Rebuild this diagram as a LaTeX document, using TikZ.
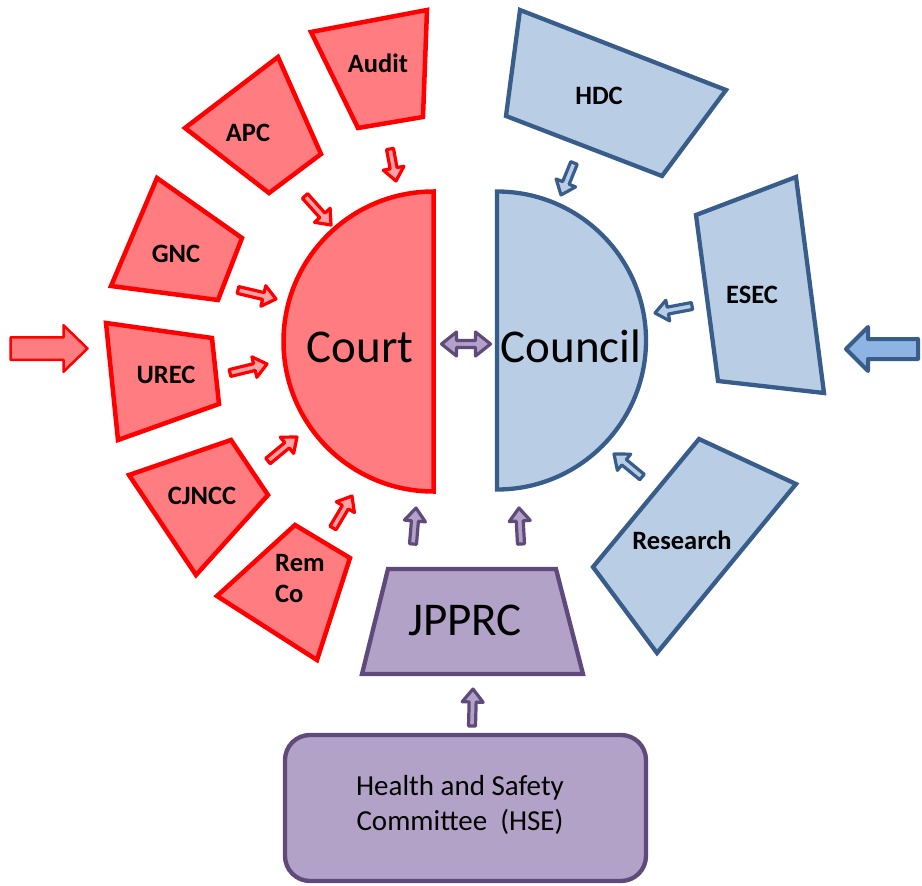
\documentclass[tikz,border=0pt]{standalone}
\usepackage{fontspec}
\setmainfont{Carlito}
\usetikzlibrary{calc}
\definecolor{rfill}{HTML}{FF7C80}
\definecolor{rline}{HTML}{FF0000}
\definecolor{bfill}{HTML}{B9CDE5}
\definecolor{bline}{HTML}{385D8A}
\definecolor{barrowfill}{HTML}{8EB4E3}
\definecolor{pfill}{HTML}{B3A2C7}
\definecolor{pline}{HTML}{604A7B}
\tikzset{
  blk/.style n args={3}{to path={let \p1=(\tikztostart), \p2=(\tikztotarget),
      \n1={atan2(\y2-\y1,\x2-\x1)}, \n2={veclen(\x2-\x1,\y2-\y1)-#3} in
      ($(\p1)+({\n1+90}:#1)$) -- ($(\p1)+(\n1:\n2)+({\n1+90}:#1)$) --
      ($(\p1)+(\n1:\n2)+({\n1+90}:#2)$) -- (\p2) --
      ($(\p1)+(\n1:\n2)+({\n1-90}:#2)$) -- ($(\p1)+(\n1:\n2)+({\n1-90}:#1)$) --
      ($(\p1)+({\n1-90}:#1)$) -- cycle}},
  sarr/.style={line width=3.2pt, line join=round, blk={3.5pt}{10.5pt}{13pt}},
  redarr/.style={sarr, draw=rline, fill=rfill!70!white},
  bluearr/.style={sarr, draw=bline, fill=bfill},
  purarr/.style={sarr, draw=pline, fill=pfill},
  redshape/.style={draw=rline, fill=rfill, line width=4.5pt, line join=miter},
  blueshape/.style={draw=bline, fill=bfill, line width=4.3pt, line join=miter},
  purshape/.style={draw=pline, fill=pfill, line width=4.3pt, line join=miter},
  lab/.style={font=\bfseries\fontsize{26.5}{31}\selectfont, inner sep=0pt, anchor=base},
  biglab/.style={font=\fontsize{47}{56}\selectfont, inner sep=0pt, anchor=base},
  hselab/.style={font=\fontsize{29}{35}\selectfont, inner sep=0pt, anchor=base, align=center}
}
\begin{document}
\begin{tikzpicture}[x=1pt,y=-1pt]
\useasboundingbox (0,0) rectangle (922,886);
% ---------- Court side ----------
\draw[redshape] (433.5,191.5) arc[start angle=270, end angle=90, radius=150] -- cycle;
\node[biglab] (court) at (360,362) {Court};
\draw[redshape] (311,32) -- (427,10) -- (423,117) -- (358,128) -- cycle;
\node[lab] (audit) at (378,72) {Audit};
\draw[redshape] (185,128) -- (278,57) -- (321,154) -- (269,193) -- cycle;
\node[lab] (apc) at (248,141) {APC};
\draw[redshape] (157,178) -- (242,238) -- (218,300) -- (111,286) -- cycle;
\node[lab] (gnc) at (176,262) {GNC};
\draw[redshape] (106,323) -- (212,338) -- (219,404) -- (118,440) -- cycle;
\node[lab] (urec) at (166,383) {UREC};
\draw[redshape] (129,475) -- (231,440) -- (268,495) -- (196,575) -- cycle;
\node[lab] (cjncc) at (202,504) {CJNCC};
\draw[redshape] (217,596) -- (295,525) -- (350,558) -- (317,660) -- cycle;
\node[lab, anchor=base west] (rem) at (275,571) {Rem};
\node[lab, anchor=base west] (co) at (275,602) {Co};
% ---------- Council side ----------
\draw[blueshape] (497,191.5) arc[start angle=-90, end angle=90, radius=149] -- cycle;
\node[biglab] (council) at (571,362) {Council};
\draw[blueshape] (520,10) -- (726,90) -- (662,176) -- (506,116) -- cycle;
\node[lab] (hdc) at (599,104) {HDC};
\draw[blueshape] (696,215) -- (796,177) -- (824,393) -- (718,381) -- cycle;
\node[lab] (esec) at (752,303) {ESEC};
\draw[blueshape] (699,439) -- (796,484) -- (657,653) -- (593,567) -- cycle;
\node[lab] (research) at (682,549) {Research};
% ---------- JPPRC and HSE ----------
\draw[purshape] (388,569) -- (556,569) -- (583,674) -- (362,674) -- cycle;
\node[biglab] (jpprc) at (465,635) {JPPRC};
\draw[purshape, rounded corners=25pt] (285,735) rectangle (646,881);
\node[hselab] (hse1) at (460,795) {Health and Safety};
\node[hselab] (hse2) at (460,830) {Committee\ \ (HSE)};
% ---------- arrow end points ----------
\coordinate (a1) at (390,149); \coordinate (a2) at (396,181);
\coordinate (p1) at (305,196); \coordinate (p2) at (331,225);
\coordinate (g1) at (238,290); \coordinate (g2) at (276,299);
\coordinate (u1) at (230,373); \coordinate (u2) at (267,364);
\coordinate (c1) at (268,461); \coordinate (c2) at (297,437);
\coordinate (r1) at (333,528); \coordinate (r2) at (352,496);
\coordinate (j1) at (413,544); \coordinate (j2) at (416,508);
\coordinate (k1) at (521,544); \coordinate (k2) at (519,508);
\coordinate (h1) at (472,726); \coordinate (h2) at (473,689);
\coordinate (d1) at (574,163); \coordinate (d2) at (561,195);
\coordinate (e1) at (692,306); \coordinate (e2) at (655,313);
\coordinate (s1) at (642,477); \coordinate (s2) at (614,454);
\coordinate (L1) at (10.5,348.5); \coordinate (L2) at (87.5,348.5);
\coordinate (R1) at (918,349); \coordinate (R2) at (846,349);
% ---------- arrows ----------
\draw[redarr] (a1) to (a2);
\draw[redarr] (p1) to (p2);
\draw[redarr] (g1) to (g2);
\draw[redarr] (u1) to (u2);
\draw[redarr] (c1) to (c2);
\draw[redarr] (r1) to (r2);
\draw[purarr] (j1) to (j2);
\draw[purarr] (k1) to (k2);
\draw[purarr] (h1) to (h2);
\draw[bluearr] (d1) to (d2);
\draw[bluearr] (e1) to (e2);
\draw[bluearr] (s1) to (s2);
\draw[draw=rline, fill=rfill, line width=2.5pt, line join=round, blk={11.25pt}{23.25pt}{24pt}] (L1) to (L2);
\draw[draw=bline, fill=barrowfill, line width=4pt, line join=round, blk={10pt}{22pt}{22pt}] (R1) to (R2);
% double arrow between Court and Council
\coordinate (m1) at (441.5,344); \coordinate (m2) at (490.5,344);
\draw[draw=pline, fill=pfill, line width=3.2pt, line join=round]
  (m1) -- ++(15,-12) -- ++(0,8.5) -- ($(m2)+(-15,-3.5)$) -- ++(0,-8.5) -- (m2)
  -- ++(-15,12) -- ++(0,-8.5) -- ($(m1)+(15,3.5)$) -- ++(0,8.5) -- cycle;
\end{tikzpicture}
\end{document}
